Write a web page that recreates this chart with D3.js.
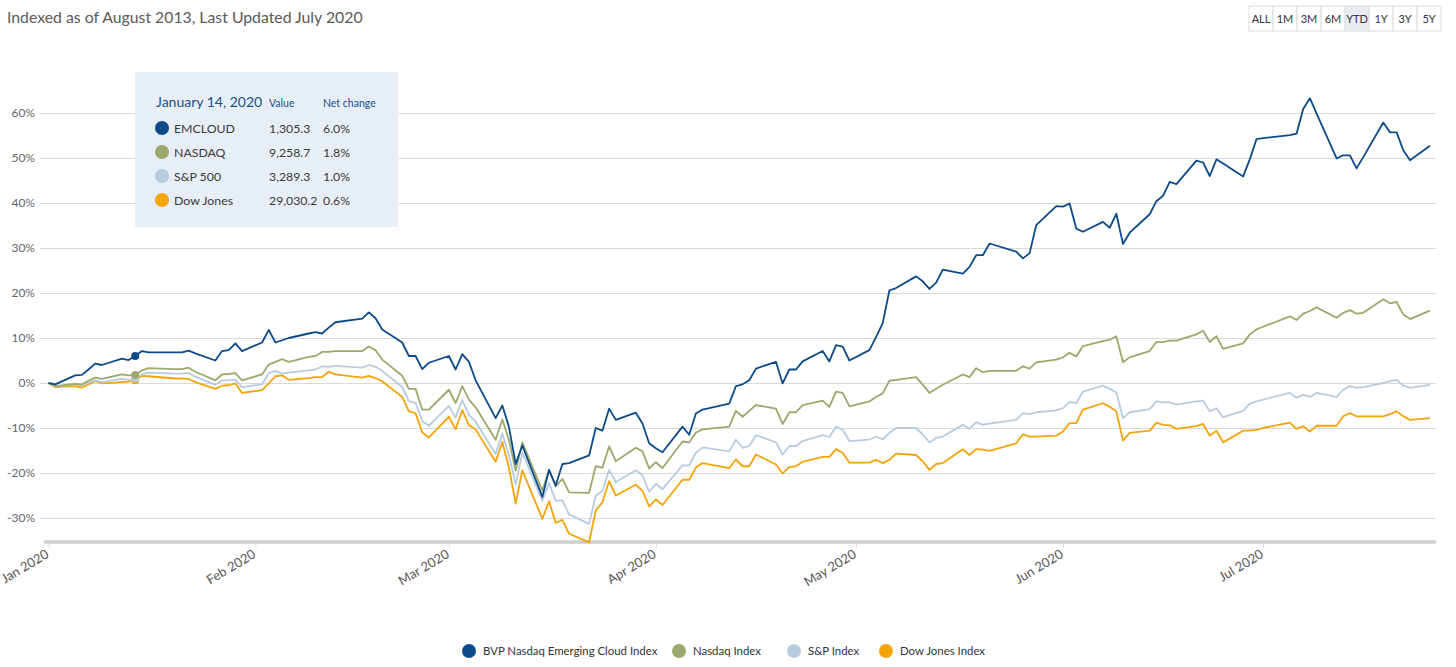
<!DOCTYPE html>
<html>
<head>
<meta charset="utf-8">
<script src="https://cdn.jsdelivr.net/npm/d3@7"></script>
<style>
  body { margin: 0; background: #fff; font-family: Lato, "Open Sans", sans-serif; }
</style>
</head>
<body>
<svg id="chart" width="1456" height="667"></svg>
<script>
// chart data (percent change since start of year)
const dates = [
  "2020-01-01","2020-01-02","2020-01-05","2020-01-06","2020-01-07","2020-01-08","2020-01-09",
  "2020-01-12","2020-01-13","2020-01-14","2020-01-15","2020-01-16","2020-01-20","2020-01-21",
  "2020-01-22","2020-01-23","2020-01-26","2020-01-27","2020-01-28","2020-01-29","2020-01-30",
  "2020-02-02","2020-02-03","2020-02-04","2020-02-05","2020-02-06","2020-02-09","2020-02-10",
  "2020-02-11","2020-02-12","2020-02-13","2020-02-17","2020-02-18","2020-02-19","2020-02-20",
  "2020-02-23","2020-02-24","2020-02-25","2020-02-26","2020-02-27","2020-03-01","2020-03-02",
  "2020-03-03","2020-03-04","2020-03-05","2020-03-08","2020-03-09","2020-03-10","2020-03-11",
  "2020-03-12","2020-03-15","2020-03-16","2020-03-17","2020-03-18","2020-03-19","2020-03-22",
  "2020-03-23","2020-03-24","2020-03-25","2020-03-26","2020-03-29","2020-03-30","2020-03-31",
  "2020-04-01","2020-04-02","2020-04-05","2020-04-06","2020-04-07","2020-04-08","2020-04-12",
  "2020-04-13","2020-04-14","2020-04-15","2020-04-16","2020-04-19","2020-04-20","2020-04-21",
  "2020-04-22","2020-04-23","2020-04-26","2020-04-27","2020-04-28","2020-04-29","2020-04-30",
  "2020-05-03","2020-05-04","2020-05-05","2020-05-06","2020-05-07","2020-05-10","2020-05-11",
  "2020-05-12","2020-05-13","2020-05-14","2020-05-17","2020-05-18","2020-05-19","2020-05-20",
  "2020-05-21","2020-05-25","2020-05-26","2020-05-27","2020-05-28","2020-05-31","2020-06-01",
  "2020-06-02","2020-06-03","2020-06-04","2020-06-07","2020-06-08","2020-06-09","2020-06-10",
  "2020-06-11","2020-06-14","2020-06-15","2020-06-16","2020-06-17","2020-06-18","2020-06-21",
  "2020-06-22","2020-06-23","2020-06-24","2020-06-25","2020-06-28","2020-06-29","2020-06-30",
  "2020-07-01","2020-07-05","2020-07-06","2020-07-07","2020-07-08","2020-07-09","2020-07-12",
  "2020-07-13","2020-07-14","2020-07-15","2020-07-16","2020-07-19","2020-07-20","2020-07-21",
  "2020-07-22","2020-07-23","2020-07-26"
];

const emcloud = [
  0,-0.3,1.7,1.8,3.0,4.3,4.0, 5.4,5.1,6.0,7.1,6.8,6.8,6.8, 7.2,6.6,5.0,7.1,7.3,8.8,7.1,
  9.0,11.8,9.0,9.5,10.0,11.0,11.3, 11.0,12.3,13.5,14.3,15.7,14.4,11.9, 9.0,6.0,6.0,3.1,4.5,6.0,3.0,
  6.4,4.7,0.6,-7.8,-5.0,-9.8,-18.0, -13.9,-25.3,-19.3,-22.8,-18.0,-17.8,-16.1, -10.0,-10.6,-5.7,-8.2,-6.6,-9.0,-13.4,
  -14.5,-15.4,-9.7,-11.5,-6.8,-5.9,-4.6, -0.7,-0.3,0.6,3.2,4.7,-0.1,3.0, 3.0,4.8,7.1,4.8,8.4,8.1,5.0,
  7.3,10.2,13.3,20.6,21.1,23.7,22.6, 20.9,22.3,25.2,24.3,25.8,28.4,28.4, 31.0,29.2,27.7,28.8,35.1,39.3,39.2,
  39.9,34.3,33.6,35.8,34.5,37.6,30.9, 33.4,37.5,40.4,41.6,44.7,44.2,49.4, 49.0,46.0,49.7,48.8,45.9,49.7,54.2,
  54.4,55.1,55.4,60.9,63.3,59.9,49.9, 50.6,50.6,47.7,50.2,57.9,55.7,55.7, 51.7,49.5,52.7
];

const nasdaq = [
  0,-0.7,-0.2,-0.3,0.5,1.2,0.9, 1.9,1.7,1.8,2.8,3.3,3.1,3.1, 3.4,2.5,0.6,1.9,2.0,2.2,0.6,
  1.9,4.1,4.7,5.3,4.7,5.8,6.0, 6.9,6.9,7.1,7.1,8.1,7.3,5.2, 1.6,-1.3,-1.3,-5.9,-5.9,-1.5,-4.5,
  -0.7,-3.7,-5.4,-12.6,-8.1,-12.7,-19.5, -13.2,-23.9,-19.3,-23.0,-21.3,-24.3,-24.4, -18.5,-18.8,-14.1,-17.4,-14.4,-15.2,-19.0,
  -17.6,-18.9,-13.0,-13.2,-11.0,-10.3,-9.7, -6.2,-7.5,-6.2,-4.9,-5.7,-9.1,-6.5, -6.5,-4.9,-3.9,-5.3,-1.9,-2.2,-5.2,
  -4.1,-3.1,-2.3,0.5,0.7,1.3,-0.4, -2.2,-1.3,-0.4,1.9,1.3,3.3,2.4, 2.7,2.7,3.7,3.2,4.6,5.2,5.7,
  6.7,5.9,8.2,9.3,9.6,10.4,4.6, 5.7,7.1,9.1,9.1,9.4,9.4,10.8, 11.6,9.1,10.4,7.6,8.8,10.8,11.9,
  12.5,14.8,14.0,15.4,16.0,16.8,14.5, 15.6,16.2,15.4,15.6,18.6,17.7,18.0, 15.2,14.2,16.1
];

const sp500 = [
  0,-0.7,-0.4,-0.5,0.1,0.6,0.2, 0.9,0.7,1.0,1.9,2.3,2.1,2.1, 2.2,1.4,-0.4,0.6,0.6,0.7,-0.9,
  -0.3,2.2,2.7,2.1,2.3,2.8,3.0, 3.7,3.6,3.8,3.4,4.0,3.6,2.7, -0.9,-4.0,-4.4,-8.5,-9.5,-5.1,-7.7,
  -3.8,-7.1,-8.6,-15.8,-11.2,-16.1,-22.5, -15.5,-26.2,-22.2,-26.2,-26.1,-29.2,-31.3, -25.0,-24.0,-19.3,-22.0,-19.4,-20.5,-24.2,
  -22.4,-23.6,-18.3,-18.3,-15.5,-14.3,-15.2, -12.6,-14.4,-14.0,-11.6,-13.2,-15.9,-14.0, -14.0,-12.9,-11.6,-12.0,-9.7,-10.4,-12.9,
  -12.6,-11.9,-12.5,-11.1,-10.0,-10.0,-11.5, -13.2,-12.2,-11.9,-9.3,-10.2,-8.7,-9.3, -9.0,-8.2,-6.7,-6.9,-6.5,-6.1,-5.6,
  -4.2,-4.5,-1.9,-0.6,-1.3,-2.1,-7.8, -6.5,-5.8,-4.1,-4.3,-4.3,-4.8,-4.1, -3.9,-6.3,-5.6,-7.6,-6.2,-4.6,-4.1,
  -3.7,-2.2,-3.3,-2.6,-3.1,-2.2,-3.1, -1.5,-0.7,-1.1,-0.9,0.0,0.4,0.7, -0.6,-1.1,-0.4
];

const dow = [
  0,-0.9,-0.7,-1.0,-0.3,0.4,-0.1, 0.2,0.3,0.6,1.6,1.5,1.0,1.0, 0.9,0.2,-1.3,-0.6,-0.5,-0.1,-2.2,
  -1.6,-0.1,1.5,1.7,0.7,1.1,1.3, 1.3,2.5,1.9,1.2,1.6,1.1,0.4, -3.1,-6.3,-6.7,-11.0,-12.1,-7.5,-10.3,
  -6.0,-9.4,-10.3,-17.5,-13.1,-18.9,-26.8, -19.4,-30.2,-26.3,-31.1,-30.4,-33.5,-35.4, -28.3,-26.5,-21.8,-25.0,-22.6,-24.0,-27.4,
  -25.9,-27.1,-21.5,-21.5,-18.8,-17.8,-18.9, -17.0,-18.5,-18.5,-15.9,-18.1,-20.1,-18.7, -18.5,-17.5,-16.4,-16.4,-14.7,-15.5,-17.7,
  -17.7,-17.1,-17.8,-17.1,-15.7,-16.0,-17.4, -19.3,-18.0,-17.8,-14.7,-16.0,-14.7,-14.8, -15.1,-13.4,-11.4,-11.9,-11.9,-11.7,-10.8,
  -8.9,-8.9,-5.9,-4.5,-5.3,-6.3,-12.8, -11.1,-10.6,-8.8,-9.3,-9.4,-10.2,-9.6, -9.1,-11.7,-10.6,-13.2,-10.6,-10.6,-10.4,
  -10.0,-8.8,-10.2,-9.6,-10.8,-9.5,-9.5, -7.4,-6.7,-7.4,-7.4,-7.4,-6.9,-6.3, -7.4,-8.2,-7.8
];

const seriesNames = ["BVP Nasdaq Emerging Cloud Index", "Nasdaq Index", "S&P Index", "Dow Jones Index"];
const seriesColors = ["#0c4a89", "#9ba96b", "#b6cce0", "#f4a409"];
const yTicks = [-30, -20, -10, 0, 10, 20, 30, 40, 50, 60];
const monthTicks = ["2020-01-01","2020-02-01","2020-03-01","2020-04-01","2020-05-01","2020-06-01","2020-07-01"];
const rangeButtons = ["ALL", "1M", "3M", "6M", "YTD", "1Y", "3Y", "5Y"];
const activeButton = "YTD";
const titleText = "Indexed as of August 2013, Last Updated July 2020";

// tooltip content
const tipDate = "2020-01-14";
const tipLabel = "January 14, 2020";
const tipNames = ["EMCLOUD", "NASDAQ", "S&P 500", "Dow Jones"];
const tipValues = ["1,305.3", "9,258.7", "3,289.3", "29,030.2"];

const parse = d3.utcParse("%Y-%m-%d");
const svg = d3.select("#chart");

const x = d3.scaleUtc()
  .domain([parse(dates[0]), parse(dates[dates.length - 1])])
  .range([48.5, 1430]);
const y = d3.scaleLinear().domain([-30, 60]).range([518, 113]);
const plotLeft = 40, plotRight = 1436, plotBottom = 542;

// title
svg.append("text")
  .attr("x", 7).attr("y", 23)
  .attr("font-size", 15.8).attr("fill", "#5a5a5a")
  .text(titleText);

// range buttons
const bw = 24, bx0 = 1249, by0 = 6, bh = 25;
const btn = svg.append("g").selectAll("g").data(rangeButtons).join("g")
  .attr("transform", (d, i) => `translate(${bx0 + i * bw},${by0})`);
btn.append("rect")
  .attr("width", bw).attr("height", bh)
  .attr("fill", d => d === activeButton ? "#e7ecf3" : "#fff")
  .attr("stroke", "#dcdcdc");
btn.append("text")
  .attr("x", bw / 2).attr("y", bh / 2 + 4)
  .attr("text-anchor", "middle").attr("font-size", 11).attr("fill", "#333")
  .text(d => d);

// y gridlines + labels
const yAxis = svg.append("g")
  .attr("transform", `translate(${plotLeft},0)`)
  .call(d3.axisLeft(y).tickValues(yTicks).tickSize(-(plotRight - plotLeft)).tickPadding(5).tickFormat(d => d + "%"));
yAxis.select(".domain").remove();
yAxis.selectAll("line").attr("stroke", "#dadada");
yAxis.selectAll("text").attr("fill", "#666").attr("font-size", 12).attr("font-family", "Lato, sans-serif");

// x axis
svg.append("line")
  .attr("x1", 44).attr("x2", plotRight).attr("y1", plotBottom).attr("y2", plotBottom)
  .attr("stroke", "#cfcfcf").attr("stroke-width", 3.5);
const xAxis = svg.append("g")
  .attr("transform", `translate(0,${plotBottom + 1})`)
  .call(d3.axisBottom(x).tickValues(monthTicks.map(parse)).tickSize(5).tickFormat(d3.utcFormat("%b %Y")));
xAxis.select(".domain").remove();
xAxis.selectAll("line").attr("stroke", "#ddd");
xAxis.selectAll("text")
  .attr("y", 3).attr("dy", "0.7em").attr("dx", "-0.5em")
  .attr("text-anchor", "end")
  .attr("transform", "rotate(-31)")
  .attr("fill", "#555").attr("font-size", 13).attr("font-family", "Lato, sans-serif");

// lines
const allSeries = [emcloud, nasdaq, sp500, dow].map((vals, i) => ({
  name: seriesNames[i],
  color: seriesColors[i],
  points: vals.map((v, j) => ({ date: parse(dates[j]), v }))
}));
const line = d3.line().x(d => x(d.date)).y(d => y(d.v));
svg.append("g").selectAll("path")
  .data(allSeries.slice().reverse())
  .join("path")
  .attr("d", d => line(d.points))
  .attr("fill", "none")
  .attr("stroke", d => d.color)
  .attr("stroke-width", 1.8)
  .attr("stroke-linejoin", "round");

// hover markers at the tooltip date
const tipIdx = dates.indexOf(tipDate);
svg.append("g").selectAll("circle")
  .data(allSeries.slice().reverse())
  .join("circle")
  .attr("cx", d => x(d.points[tipIdx].date))
  .attr("cy", d => y(d.points[tipIdx].v))
  .attr("r", 4)
  .attr("fill", d => d.color);

// tooltip box
const tip = svg.append("g").attr("transform", "translate(135,72)");
tip.append("rect").attr("width", 263).attr("height", 155).attr("fill", "#e8eef5");
tip.append("text").attr("x", 21).attr("y", 35).attr("font-size", 14).attr("fill", "#175189").text(tipLabel);
tip.append("text").attr("x", 134).attr("y", 35).attr("font-size", 10.5).attr("fill", "#175189").text("Value");
tip.append("text").attr("x", 188).attr("y", 35).attr("font-size", 10.5).attr("fill", "#175189").text("Net change");
const rows = tip.selectAll("g.row").data(allSeries).join("g")
  .attr("class", "row")
  .attr("transform", (d, i) => `translate(0,${56 + i * 24})`);
rows.append("circle").attr("cx", 27).attr("cy", 0).attr("r", 7).attr("fill", d => d.color);
rows.append("text").attr("x", 39).attr("y", 4.5).attr("font-size", 12.3).attr("fill", "#3a3a3a").text((d, i) => tipNames[i]);
rows.append("text").attr("x", 134).attr("y", 4.5).attr("font-size", 12.3).attr("fill", "#3a3a3a").text((d, i) => tipValues[i]);
rows.append("text").attr("x", 188).attr("y", 4.5).attr("font-size", 12.3).attr("fill", "#3a3a3a")
  .text(d => d3.format(".1f")(d.points[tipIdx].v) + "%");

// legend (item positions are layout only)
const legendX = [469, 679, 794, 886];
const legend = svg.append("g").attr("transform", "translate(0,651)");
const li = legend.selectAll("g").data(allSeries).join("g")
  .attr("transform", (d, i) => `translate(${legendX[i]},0)`);
li.append("circle").attr("r", 7).attr("fill", d => d.color);
li.append("text").attr("x", 14).attr("y", 4).attr("font-size", 11.4).attr("fill", "#333").text(d => d.name);
</script>
</body>
</html>
